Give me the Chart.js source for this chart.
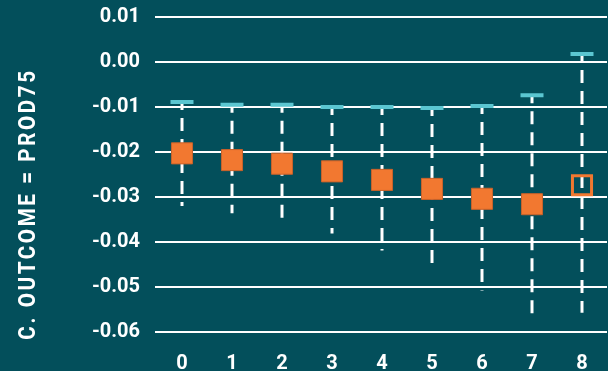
<!DOCTYPE html>
<html>
<head>
<meta charset="utf-8">
<script src="https://cdn.jsdelivr.net/npm/chart.js@4"></script>
<style>
  html, body { margin: 0; padding: 0; background: #034f5b; overflow: hidden; }
  #wrap { width: 608px; height: 371px; position: relative; }
</style>
</head>
<body>
<div id="wrap"><canvas id="coefChart"></canvas></div>
<script>
const categories = ['0', '1', '2', '3', '4', '5', '6', '7', '8'];
const estimate = [-0.0203, -0.0218, -0.0226, -0.0243, -0.0262, -0.0282, -0.0304, -0.0316, -0.0274];
const upper = [-0.0089, -0.0095, -0.0095, -0.0100, -0.0100, -0.0102, -0.0098, -0.0074, 0.0018];
const lower = [-0.0320, -0.0336, -0.0357, -0.0381, -0.0419, -0.0457, -0.0508, -0.0562, -0.0557];
const significant = [true, true, true, true, true, true, true, true, false];
const yTicks = [0.01, 0.00, -0.01, -0.02, -0.03, -0.04, -0.05, -0.06];
const yTitle = 'C. OUTCOME = PROD75';

const orange = '#f27830';
const cyan = '#5bc6d1';

// dashed whiskers, one small line per category
const whiskers = categories.map((c, i) => ({
  type: 'line',
  data: [{ x: c, y: upper[i] }, { x: c, y: lower[i] }],
  borderColor: '#ffffff',
  borderWidth: 3,
  borderDash: [13, 8],
  borderDashOffset: 5,
  pointRadius: 0,
  order: 3
}));

// rotated, letter-spaced axis title
const titlePlugin = {
  id: 'sideTitle',
  afterDraw(chart) {
    const ctx = chart.ctx;
    ctx.save();
    ctx.translate(29, 204);
    ctx.rotate(-Math.PI / 2);
    ctx.font = 'bold 24px Roboto';
    ctx.letterSpacing = '3px';
    ctx.fillStyle = '#ffffff';
    ctx.textAlign = 'center';
    ctx.textBaseline = 'middle';
    ctx.scale(0.86, 1);
    ctx.fillText(yTitle, 0, 0);
    ctx.restore();
  }
};

new Chart(document.getElementById('coefChart'), {
  data: {
    labels: categories,
    datasets: [
      {
        type: 'line',
        data: estimate,
        showLine: false,
        pointStyle: 'rect',
        pointRadius: categories.map((c, i) => significant[i] ? 14.9 : 13.5),
        pointBackgroundColor: categories.map((c, i) => significant[i] ? orange : 'rgba(0,0,0,0)'),
        pointBorderColor: categories.map((c, i) => significant[i] ? '#c9622a' : orange),
        pointBorderWidth: categories.map((c, i) => significant[i] ? 1 : 3),
        order: 1
      },
      {
        type: 'line',
        data: upper,
        showLine: false,
        pointStyle: 'line',
        pointRadius: 11.5,
        pointBorderColor: cyan,
        pointBorderWidth: 4,
        order: 2
      },
      ...whiskers
    ]
  },
  options: {
    responsive: true,
    maintainAspectRatio: false,
    animation: false,
    layout: { autoPadding: false, padding: { top: 8, right: 1, left: 0, bottom: 0 } },
    plugins: {
      legend: { display: false },
      tooltip: { enabled: false }
    },
    scales: {
      x: {
        type: 'category',
        offset: true,
        grid: { display: false },
        border: { display: false },
        ticks: {
          color: '#ffffff',
          padding: 3,
          font: { family: 'Roboto', size: 20, weight: 'bold' }
        },
        afterFit(scale) {
          scale.height = 30;
          scale.paddingLeft = 0;
          scale.paddingRight = 0;
        }
      },
      y: {
        min: -0.062,
        max: 0.012,
        grid: { color: '#ffffff', lineWidth: 2, drawTicks: true, tickLength: 2 },
        border: { display: false },
        afterBuildTicks(scale) { scale.ticks = yTicks.map(v => ({ value: v })); },
        ticks: {
          color: '#ffffff',
          padding: 15,
          font: { family: 'Roboto', size: 20, weight: 'bold' },
          callback: v => (Math.abs(v) < 1e-9 ? 0 : v).toFixed(2)
        },
        afterFit(scale) {
          scale.width = 157;
          scale.paddingTop = 0;
          scale.paddingBottom = 0;
        }
      }
    }
  },
  plugins: [titlePlugin]
});
</script>
</body>
</html>
